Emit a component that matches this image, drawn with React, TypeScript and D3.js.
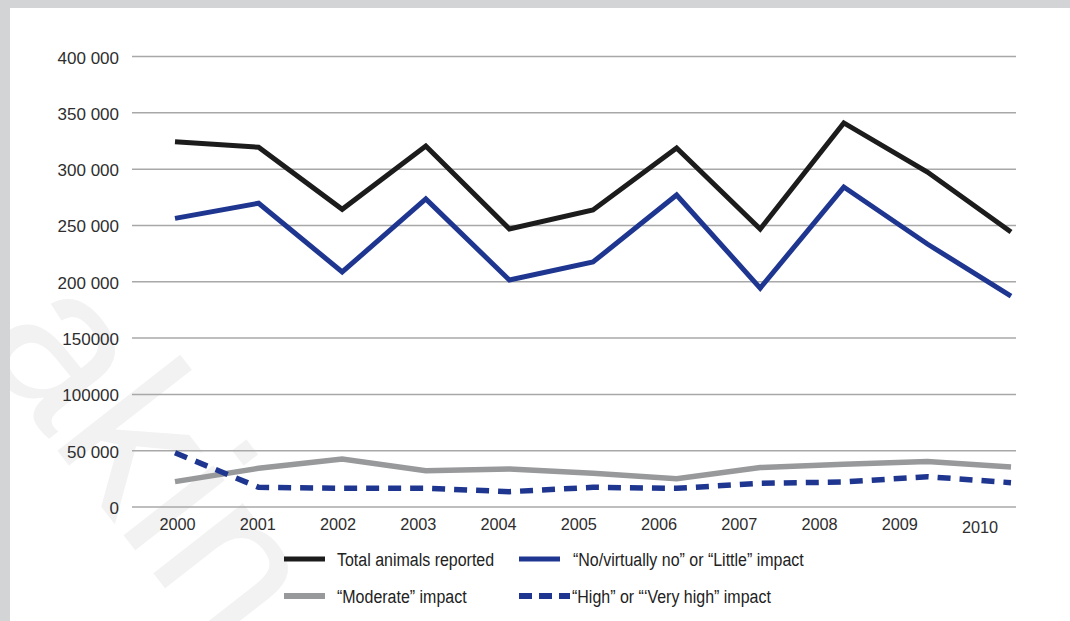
import React from 'react';
import * as d3 from 'd3';

const years = ['2000', '2001', '2002', '2003', '2004', '2005', '2006', '2007', '2008', '2009', '2010'];
const totalAnimals = [324300, 319400, 264300, 320500, 246800, 263700, 318800, 246800, 341000, 297400, 244200];
const noOrLittle = [256300, 269700, 208700, 273500, 201500, 217500, 277000, 194400, 284100, 233500, 187300];
const moderate = [22500, 34400, 42600, 32200, 33700, 30000, 25000, 35000, 38000, 40500, 35500];
const highOrVeryHigh = [48200, 17500, 16600, 16600, 13600, 17500, 16600, 21000, 22200, 26900, 21600];

const yTicks = [0, 50000, 100000, 150000, 200000, 250000, 300000, 350000, 400000];
const yTickLabels = ['0', '50 000', '100000', '150000', '200 000', '250 000', '300 000', '350 000', '400 000'];

const legendLabels = [
  'Total animals reported',
  '\u201CNo/virtually no\u201D or \u201CLittle\u201D impact',
  '\u201CModerate\u201D impact',
  '\u201CHigh\u201D or \u201C\u2018Very high\u201D impact',
];

const BLACK = '#1c1c1c';
const NAVY = '#1e3690';
const GREY = '#98999b';

export default function App() {
  const W = 1070;
  const H = 621;
  const y = d3.scaleLinear().domain([0, 400000]).range([507, 56.5]);
  const x = d3.scalePoint<string>().domain(years).range([175, 1011]);
  const xLab = d3.scalePoint<string>().domain(years).range([177.5, 980]);

  const line = d3
    .line<number>()
    .x((_, i) => x(years[i]) as number)
    .y((d) => y(d));

  const series = [
    { data: moderate, color: GREY, width: 5.5, dash: undefined as string | undefined },
    { data: highOrVeryHigh, color: NAVY, width: 5.5, dash: '13,9' },
    { data: noOrLittle, color: NAVY, width: 5, dash: undefined },
    { data: totalAnimals, color: BLACK, width: 5, dash: undefined },
  ];

  const axisFont = '"Liberation Sans", Arial, sans-serif';

  const legendItems = [
    { label: legendLabels[0], color: BLACK, width: 5, dash: undefined as string | undefined, lx: 284, ly: 559, tx: 337 },
    { label: legendLabels[1], color: NAVY, width: 5, dash: undefined, lx: 519, ly: 559, tx: 573 },
    { label: legendLabels[2], color: GREY, width: 6, dash: undefined, lx: 284, ly: 596, tx: 337 },
    { label: legendLabels[3], color: NAVY, width: 6, dash: '13,7', lx: 519, ly: 596, tx: 572 },
  ];

  return (
    <svg
      width={W}
      height={H}
      style={{ position: 'absolute', left: 0, top: 0, display: 'block' }}
    >
      <rect x={0} y={0} width={W} height={H} fill="#d3d4d6" />
      <rect x={10} y={8} width={W - 10} height={H - 8} fill="#ffffff" />
      <clipPath id="panel">
        <rect x={10} y={8} width={W - 10} height={H - 8} />
      </clipPath>
      <g clipPath="url(#panel)">
        <text
          transform="translate(-25,345) rotate(52)"
          fontFamily={axisFont}
          fontSize={215}
          fill="#f2f2f2"
        >
          akin
        </text>
      </g>
      <g>
        {yTicks.map((t, i) => (
          <g key={t}>
            <line x1={132} x2={1016} y1={y(t)} y2={y(t)} stroke="#a8a8a8" strokeWidth={1.5} />
            <text
              x={119}
              y={y(t) + 7}
              textAnchor="end"
              fontFamily={axisFont}
              fontSize={17}
              fill="#2e2e2e"
            >
              {yTickLabels[i]}
            </text>
          </g>
        ))}
      </g>
      <g>
        {years.map((yr, i) => (
          <text
            key={yr}
            x={xLab(yr) as number}
            y={i === years.length - 1 ? 533 : 530}
            textAnchor="middle"
            fontFamily={axisFont}
            fontSize={16.3}
            fill="#2e2e2e"
          >
            {yr}
          </text>
        ))}
      </g>
      <g fill="none">
        {series.map((s, i) => (
          <path
            key={i}
            d={line(s.data) as string}
            stroke={s.color}
            strokeWidth={s.width}
            strokeDasharray={s.dash}
            strokeLinejoin="miter"
          />
        ))}
      </g>
      <g>
        {legendItems.map((it, i) => (
          <g key={i}>
            <line
              x1={it.lx}
              x2={it.dash ? it.lx + 51 : it.lx + 41}
              y1={it.ly}
              y2={it.ly}
              stroke={it.color}
              strokeWidth={it.width}
              strokeDasharray={it.dash}
            />
            <text
              transform={`translate(${it.tx},${it.ly + 7}) scale(0.85,1)`}
              fontFamily={axisFont}
              fontSize={18.8}
              fill="#222"
            >
              {it.label}
            </text>
          </g>
        ))}
      </g>
    </svg>
  );
}
